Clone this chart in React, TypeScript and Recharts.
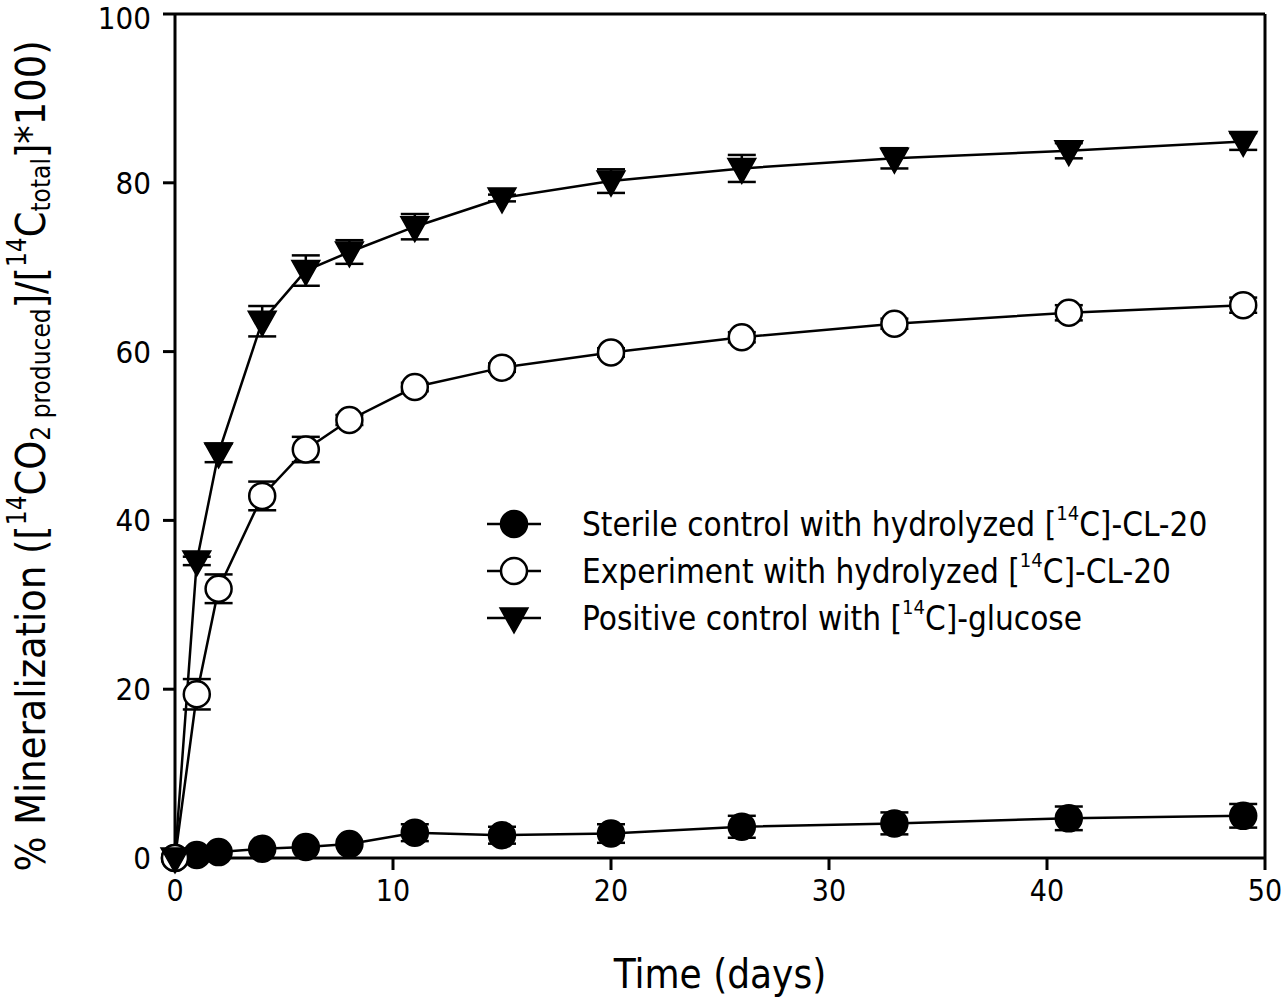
import { LineChart, Line, XAxis, YAxis, ErrorBar, ReferenceLine } from 'recharts';

const days = [0, 1, 2, 4, 6, 8, 11, 15, 20, 26, 33, 41, 49];
const sterile = [0, 0.35, 0.7, 1.1, 1.3, 1.65, 3.0, 2.7, 2.9, 3.7, 4.1, 4.7, 5.0];
const sterileErr = [0, 0, 0, 0, 0, 0, 1.0, 1.0, 1.1, 1.3, 1.3, 1.4, 1.4];
const experiment = [0, 19.4, 31.9, 42.9, 48.4, 51.9, 55.8, 58.1, 59.9, 61.7, 63.3, 64.6, 65.5];
const experimentErr = [0, 1.8, 1.7, 1.7, 1.5, 0.6, 0.5, 0.5, 0.5, 0.6, 0.6, 0.9, 0.9];
const positive = [0, 35.2, 48.0, 63.6, 69.6, 71.8, 74.8, 78.2, 80.2, 81.7, 82.9, 83.8, 84.9];
const positiveErr = [0, 0.5, 1.1, 1.8, 1.8, 1.4, 1.5, 0.4, 1.4, 1.6, 1.2, 0.9, 1.0];
const xTicks = [0, 10, 20, 30, 40, 50];
const yTicks = [0, 20, 40, 60, 80, 100];

const data = days.map((d, i) => ({
  day: d,
  sterile: sterile[i],
  sterileErr: sterileErr[i],
  experiment: experiment[i],
  experimentErr: experimentErr[i],
  positive: positive[i],
  positiveErr: positiveErr[i],
}));

const FONT = "'Liberation Sans Narrow', 'DejaVu Sans Condensed', Arial, sans-serif";
const SW = 2.5;
const AXW = 3;

const FilledCircle = (props: any) => {
  const { cx, cy } = props;
  if (cx == null || cy == null) return null;
  return <circle cx={cx} cy={cy} r={13} fill="#000" stroke="#000" strokeWidth={SW} />;
};

const OpenCircle = (props: any) => {
  const { cx, cy } = props;
  if (cx == null || cy == null) return null;
  return <circle cx={cx} cy={cy} r={13} fill="#fff" stroke="#000" strokeWidth={SW} />;
};

const DownTriangle = (props: any) => {
  const { cx, cy } = props;
  if (cx == null || cy == null) return null;
  return (
    <path
      d={`M${cx - 14},${cy - 10} L${cx + 14},${cy - 10} L${cx},${cy + 15} Z`}
      fill="#000"
      stroke="#000"
      strokeWidth={1.5}
      strokeLinejoin="miter"
    />
  );
};

const YLabel = (props: any) => {
  const { viewBox } = props;
  const cy = viewBox.y + viewBox.height / 2 + 20;
  const x = 31;
  return (
    <text
      x={x}
      y={cy}
      transform={`rotate(-90, ${x}, ${cy})`}
      textAnchor="middle"
      dominantBaseline="central"
      fontFamily={FONT}
      fontSize={41}
      fill="#000"
    >
      <tspan>% Mineralization ([</tspan>
      <tspan dy={-14} fontSize={26}>14</tspan>
      <tspan dy={14}>CO</tspan>
      <tspan dy={10} fontSize={26}>2 produced</tspan>
      <tspan dy={-10}>]/[</tspan>
      <tspan dy={-14} fontSize={26}>14</tspan>
      <tspan dy={14}>C</tspan>
      <tspan dy={10} fontSize={26}>total</tspan>
      <tspan dy={-10}>]*100)</tspan>
    </text>
  );
};

const legendItems = [
  { label: 'Sterile control with hydrolyzed ', tail: 'C]-CL-20', Marker: FilledCircle },
  { label: 'Experiment with hydrolyzed ', tail: 'C]-CL-20', Marker: OpenCircle },
  { label: 'Positive control with ', tail: 'C]-glucose', Marker: DownTriangle },
];

const LegendBox = () => (
  <g>
    {legendItems.map((it, i) => {
      const y = 524 + i * 47;
      return (
        <g key={i}>
          <line x1={487} x2={541} y1={y} y2={y} stroke="#000" strokeWidth={SW} />
          <it.Marker cx={514} cy={y} />
          <text x={582} y={y} dominantBaseline="central" fontFamily={FONT} fontSize={33} fill="#000">
            <tspan>{it.label}[</tspan>
            <tspan dy={-11} fontSize={20}>14</tspan>
            <tspan dy={11}>{it.tail}</tspan>
          </text>
        </g>
      );
    })}
  </g>
);

export default function App() {
  return (
    <div style={{ width: 1282, height: 1000, background: '#fff' }}>
      <style>{'body{margin:0}'}</style>
      <LineChart
        width={1282}
        height={1000}
        data={data}
        margin={{ top: 14, right: 17, bottom: 0, left: 0 }}
      >
        <XAxis
          dataKey="day"
          type="number"
          domain={[0, 50]}
          ticks={xTicks}
          height={142}
          stroke="#000"
          strokeWidth={AXW}
          tickSize={12}
          tickMargin={10}
          tick={{ fill: '#000', fontSize: 30, fontFamily: FONT }}
          tickLine={{ stroke: '#000', strokeWidth: AXW }}
          label={{
            value: 'Time (days)',
            position: 'insideBottom',
            offset: 12,
            fill: '#000',
            fontSize: 40,
            fontFamily: FONT,
          }}
        />
        <YAxis
          type="number"
          domain={[0, 100]}
          ticks={yTicks}
          width={175}
          stroke="#000"
          strokeWidth={AXW}
          tickSize={12}
          tickMargin={12}
          tick={{ fill: '#000', fontSize: 31, fontFamily: FONT }}
          tickLine={{ stroke: '#000', strokeWidth: AXW }}
          label={<YLabel />}
        />
        <ReferenceLine y={100} stroke="#000" strokeWidth={AXW} />
        <ReferenceLine x={50} stroke="#000" strokeWidth={AXW} />
        <Line
          dataKey="sterile"
          stroke="#000"
          strokeWidth={SW}
          dot={<FilledCircle />}
          activeDot={false}
          isAnimationActive={false}
        >
          <ErrorBar dataKey="sterileErr" width={14} stroke="#000" strokeWidth={SW} direction="y" isAnimationActive={false} />
        </Line>
        <Line
          dataKey="experiment"
          stroke="#000"
          strokeWidth={SW}
          dot={<OpenCircle />}
          activeDot={false}
          isAnimationActive={false}
        >
          <ErrorBar dataKey="experimentErr" width={14} stroke="#000" strokeWidth={SW} direction="y" isAnimationActive={false} />
        </Line>
        <Line
          dataKey="positive"
          stroke="#000"
          strokeWidth={SW}
          dot={<DownTriangle />}
          activeDot={false}
          isAnimationActive={false}
        >
          <ErrorBar dataKey="positiveErr" width={14} stroke="#000" strokeWidth={SW} direction="y" isAnimationActive={false} />
        </Line>
        <LegendBox />
      </LineChart>
    </div>
  );
}
